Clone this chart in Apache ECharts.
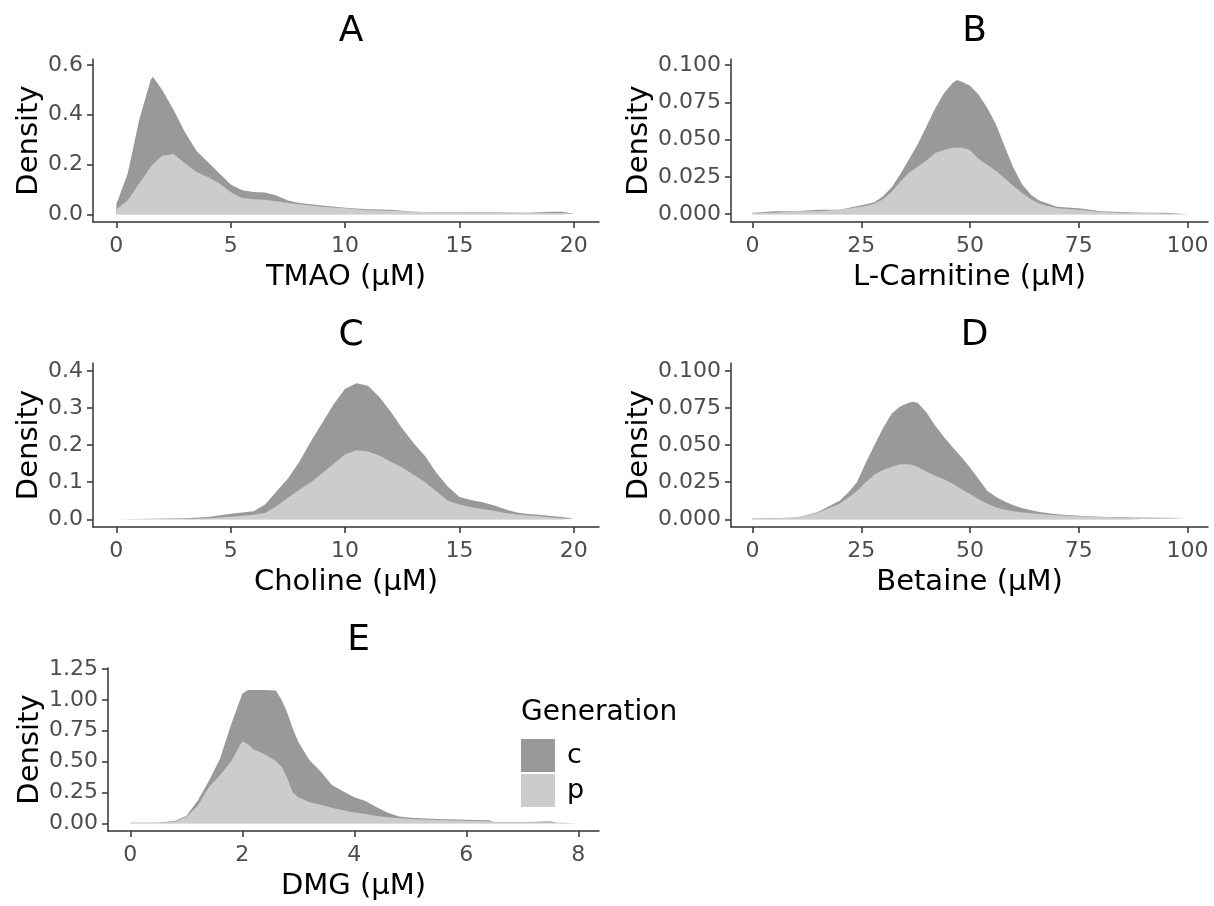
<!DOCTYPE html>
<html>
<head>
<meta charset="utf-8">
<title>Density by generation</title>
<script src="https://cdn.jsdelivr.net/npm/echarts@6/dist/echarts.min.js"></script>
<style>
  html, body { margin: 0; background: #fff; }
  #chart { width: 1214px; height: 906px; }
</style>
</head>
<body>
<div id="chart"></div>
<script>
// ---- data (p = bottom layer, c = layer stacked on top) ----
const generations = ['c', 'p'];

const tmaoX = [0, 0.5, 1, 1.5, 1.6, 2, 2.5, 3, 3.5, 4, 4.5, 5, 5.5, 6, 6.5, 7, 7.5, 8, 9, 10, 11, 12, 13, 14, 15, 16, 17, 18, 19, 19.5, 20];
const tmaoP = [0.02, 0.056, 0.124, 0.19, 0.2, 0.235, 0.242, 0.205, 0.17, 0.15, 0.125, 0.09, 0.065, 0.06, 0.058, 0.052, 0.045, 0.04, 0.03, 0.024, 0.016, 0.014, 0.01, 0.008, 0.008, 0.007, 0.006, 0.005, 0.005, 0.005, 0.002];
const tmaoC = [0.02, 0.109, 0.256, 0.35, 0.353, 0.265, 0.178, 0.125, 0.085, 0.06, 0.04, 0.03, 0.032, 0.03, 0.03, 0.023, 0.01, 0.005, 0.005, 0.002, 0.004, 0.004, 0, 0, 0, 0.001, 0.001, 0.001, 0.005, 0.005, 0];

const carnX = [0, 5, 10, 15, 20, 25, 28, 30, 32, 34, 36, 38, 40, 42, 44, 46, 47, 48, 50, 52, 54, 56, 58, 60, 62, 64, 66, 68, 70, 75, 80, 85, 90, 95, 100];
const carnP = [0.001, 0.001, 0.002, 0.002, 0.003, 0.005, 0.007, 0.01, 0.015, 0.022, 0.028, 0.032, 0.036, 0.041, 0.043, 0.0445, 0.0447, 0.0447, 0.043, 0.037, 0.033, 0.029, 0.024, 0.019, 0.014, 0.01, 0.007, 0.0055, 0.004, 0.003, 0.0015, 0.001, 0.001, 0.0005, 0];
const carnC = [0, 0.001, 0, 0.001, 0, 0.001, 0.001, 0.002, 0.003, 0.005, 0.009, 0.015, 0.023, 0.03, 0.038, 0.0435, 0.0453, 0.0443, 0.043, 0.043, 0.038, 0.031, 0.021, 0.012, 0.006, 0.003, 0.002, 0.0015, 0.001, 0.001, 0.0005, 0.0005, 0, 0.0005, 0];

const cholX = [0, 3, 4, 5, 6, 6.5, 7, 7.5, 8, 8.5, 9, 9.5, 10, 10.5, 11, 11.5, 12, 12.5, 13, 13.5, 14, 14.5, 15, 15.5, 16, 16.5, 17, 17.5, 18, 18.5, 19, 19.5, 20];
const cholP = [0, 0.001, 0.003, 0.007, 0.012, 0.017, 0.035, 0.058, 0.08, 0.1, 0.124, 0.15, 0.175, 0.186, 0.183, 0.172, 0.155, 0.14, 0.12, 0.1, 0.075, 0.05, 0.04, 0.033, 0.028, 0.023, 0.017, 0.013, 0.01, 0.008, 0.005, 0.003, 0.001];
const cholC = [0, 0.002, 0.003, 0.008, 0.01, 0.023, 0.04, 0.052, 0.075, 0.11, 0.136, 0.16, 0.177, 0.181, 0.177, 0.158, 0.135, 0.105, 0.085, 0.07, 0.05, 0.038, 0.02, 0.019, 0.018, 0.015, 0.01, 0.005, 0.004, 0.004, 0.004, 0.003, 0.001];

const betX = [0, 5, 10, 12, 15, 18, 20, 22, 24, 26, 28, 30, 32, 34, 36, 37, 38, 40, 42, 44, 46, 48, 50, 52, 54, 56, 58, 60, 62, 66, 70, 76, 82, 86, 87, 100];
const betP = [0.0005, 0.0007, 0.0012, 0.0025, 0.0045, 0.008, 0.0105, 0.0145, 0.019, 0.025, 0.03, 0.0332, 0.0355, 0.0372, 0.0372, 0.0365, 0.0352, 0.032, 0.0293, 0.027, 0.024, 0.0205, 0.017, 0.0135, 0.0105, 0.008, 0.0065, 0.0055, 0.0045, 0.0035, 0.0027, 0.0018, 0.0014, 0.0012, 0.0012, 0.0008];
const betC = [0, 0, 0, 0, 0.0005, 0.0015, 0.002, 0.0035, 0.006, 0.013, 0.02, 0.0283, 0.0359, 0.039, 0.0416, 0.0428, 0.0433, 0.04, 0.0337, 0.0285, 0.0245, 0.0215, 0.018, 0.0135, 0.0085, 0.0071, 0.0055, 0.004, 0.0029, 0.0015, 0.0007, 0.0005, 0.0002, 0.0004, 0, 0];

const dmgX = [0, 0.5, 0.8, 1, 1.2, 1.4, 1.6, 1.8, 2, 2.1, 2.2, 2.4, 2.6, 2.7, 2.8, 2.9, 3, 3.2, 3.4, 3.6, 3.8, 4, 4.2, 4.4, 4.6, 4.8, 5, 5.5, 6, 6.4, 6.5, 7, 7.5, 7.6, 8];
const dmgP = [0.005, 0.005, 0.015, 0.05, 0.14, 0.29, 0.39, 0.5, 0.665, 0.64, 0.6, 0.56, 0.505, 0.46, 0.37, 0.25, 0.21, 0.17, 0.15, 0.125, 0.105, 0.088, 0.075, 0.06, 0.048, 0.04, 0.035, 0.026, 0.02, 0.016, 0.008, 0.008, 0.008, 0.005, 0];
const dmgC = [0, 0, 0.005, 0.01, 0.04, 0.05, 0.13, 0.3, 0.385, 0.44, 0.48, 0.52, 0.57, 0.54, 0.53, 0.52, 0.45, 0.34, 0.27, 0.185, 0.155, 0.122, 0.105, 0.07, 0.037, 0.015, 0.01, 0.009, 0.008, 0.008, 0, 0, 0.008, 0, 0];

// tick labels
const xTicks20 = [0, 5, 10, 15, 20];
const xTicks100 = [0, 25, 50, 75, 100];
const xTicks8 = [0, 2, 4, 6, 8];
const yTicksA = [0, 0.2, 0.4, 0.6];
const yTicksB = [0, 0.025, 0.05, 0.075, 0.1];
const yTicksC = [0, 0.1, 0.2, 0.3, 0.4];
const yTicksD = [0, 0.025, 0.05, 0.075, 0.1];
const yTicksE = [0, 0.25, 0.5, 0.75, 1, 1.25];

const COLORS = { c: '#999999', p: '#cccccc' };
const FONT = 'DejaVu Sans';

// panel layout (pixel boxes)
const panels = [
  { label: 'A', xName: 'TMAO (µM)', x: tmaoX, p: tmaoP, c: tmaoC, xTicks: xTicks20, yTicks: yTicksA, digits: 1,
    box: { left: 93, top: 59, width: 506, height: 163 }, xr: [-1.02, 21.1], yr: [-0.031, 0.624], yGap: 46 },
  { label: 'B', xName: 'L-Carnitine (µM)', x: carnX, p: carnP, c: carnC, xTicks: xTicks100, yTicks: yTicksB, digits: 3,
    box: { left: 731, top: 59, width: 477, height: 163 }, xr: [-4.95, 104.7], yr: [-0.0052, 0.104], yGap: 77 },
  { label: 'C', xName: 'Choline (µM)', x: cholX, p: cholP, c: cholC, xTicks: xTicks20, yTicks: yTicksC, digits: 1,
    box: { left: 93, top: 363, width: 506, height: 164 }, xr: [-1.02, 21.1], yr: [-0.0208, 0.4216], yGap: 46 },
  { label: 'D', xName: 'Betaine (µM)', x: betX, p: betP, c: betC, xTicks: xTicks100, yTicks: yTicksD, digits: 3,
    box: { left: 731, top: 363, width: 477, height: 164 }, xr: [-4.95, 104.7], yr: [-0.0052, 0.1054], yGap: 77 },
  { label: 'E', xName: 'DMG (µM)', x: dmgX, p: dmgP, c: dmgC, xTicks: xTicks8, yTicks: yTicksE, digits: 2,
    box: { left: 108, top: 668, width: 491, height: 163 }, xr: [-0.398, 8.37], yr: [-0.0624, 1.258], yGap: 62 },
];

const axisLine = { show: true, onZero: false, lineStyle: { color: '#333333', width: 1.5 } };

const grid = [], xAxis = [], yAxis = [], series = [], title = [];

panels.forEach((pn, i) => {
  grid.push({ left: pn.box.left, top: pn.box.top, width: pn.box.width, height: pn.box.height, containLabel: false });

  title.push({
    text: pn.label,
    left: pn.box.left + pn.box.width / 2,
    top: pn.box.top - 50,
    textAlign: 'center',
    textStyle: { fontFamily: FONT, fontSize: 36, fontWeight: 'normal', color: '#000' },
  });

  xAxis.push({
    type: 'value', gridIndex: i, min: pn.xr[0], max: pn.xr[1],
    axisLine,
    axisTick: { show: true, length: 6, customValues: pn.xTicks, lineStyle: { color: '#333333', width: 1.5 } },
    axisLabel: { customValues: pn.xTicks, color: '#4d4d4d', fontSize: 22, fontFamily: FONT, margin: 13 },
    splitLine: { show: false },
    name: pn.xName, nameLocation: 'middle', nameGap: 41,
    nameTextStyle: { fontFamily: FONT, fontSize: 29, color: '#000' },
  });

  yAxis.push({
    type: 'value', gridIndex: i, min: pn.yr[0], max: pn.yr[1],
    axisLine,
    axisTick: { show: true, length: 6, customValues: pn.yTicks, lineStyle: { color: '#333333', width: 1.5 } },
    axisLabel: {
      customValues: pn.yTicks, color: '#4d4d4d', fontSize: 22, fontFamily: FONT, margin: 10,
      formatter: (v) => v.toFixed(pn.digits),
    },
    splitLine: { show: false },
    name: 'Density', nameLocation: 'middle', nameGap: pn.yGap,
    nameTextStyle: { fontFamily: FONT, fontSize: 29, color: '#000' },
  });

  // ECharts stacks the first value dimension (x) on a value/value grid, so the
  // stack is built here: c is drawn as p + c, then p is painted over it.
  const cTop = pn.c.map((v, j) => v + pn.p[j]);
  const layers = { c: cTop, p: pn.p };
  ['c', 'p'].forEach((g) => {
    series.push({
      name: g, type: 'line', xAxisIndex: i, yAxisIndex: i,
      data: pn.x.map((xv, j) => [xv, layers[g][j]]),
      symbol: 'none', silent: true,
      color: COLORS[g],
      itemStyle: { color: COLORS[g] },
      lineStyle: { width: 0 },
      areaStyle: { color: COLORS[g], opacity: 1, origin: 0 },
    });
  });
});

// legend title
title.push({
  text: 'Generation', left: 516, top: 694,
  textStyle: { fontFamily: FONT, fontSize: 28, fontWeight: 'normal', color: '#000' },
});

const chart = echarts.init(document.getElementById('chart'), null, { renderer: 'canvas' });
chart.setOption({
  backgroundColor: '#ffffff',
  animation: false,
  title,
  legend: {
    data: generations.map((g) => ({ name: g, itemStyle: { color: COLORS[g] } })),
    orient: 'vertical', left: 521, top: 739, padding: 0,
    itemWidth: 34, itemHeight: 33, itemGap: 2, icon: 'rect',
    selectedMode: false,
    textStyle: { fontFamily: FONT, fontSize: 27, color: '#000', padding: [0, 0, 0, 7] },
  },
  grid, xAxis, yAxis, series,
});
</script>
</body>
</html>
